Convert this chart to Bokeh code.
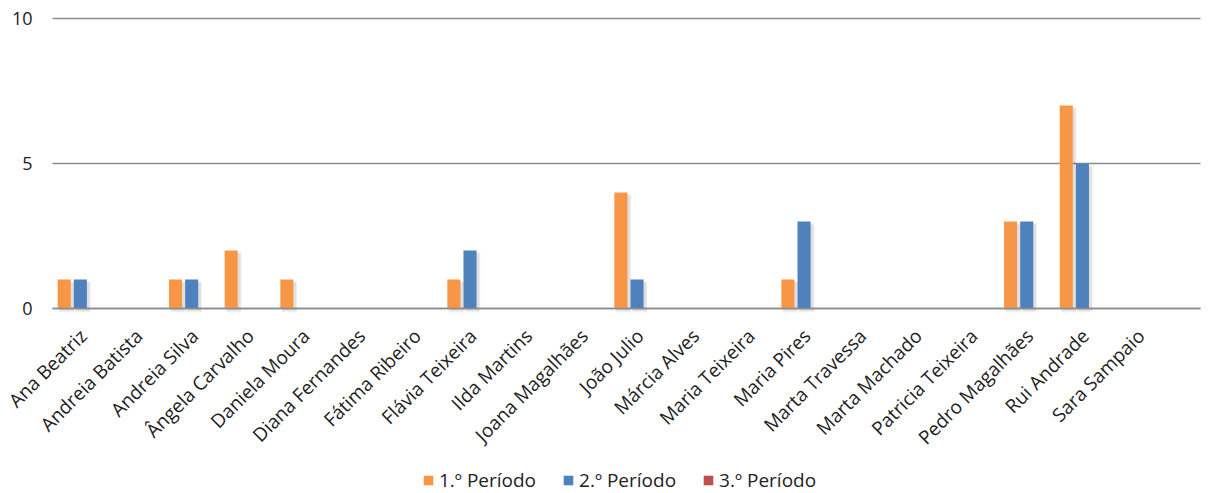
from bokeh.plotting import figure
from bokeh.models import Range1d, Legend, LegendItem, ColumnDataSource
from bokeh.core.properties import value
from bokeh.embed import file_html
from bokeh.resources import INLINE
import math

names = ["Ana Beatriz", "Andreia Batista", "Andreia Silva", "Ângela Carvalho", "Daniela Moura",
         "Diana Fernandes", "Fátima Ribeiro", "Flávia Teixeira", "Ilda Martins", "Joana Magalhães",
         "João Julio", "Márcia Alves", "Maria Teixeira", "Maria Pires", "Marta Travessa",
         "Marta Machado", "Patricia Teixeira", "Pedro Magalhães", "Rui Andrade", "Sara Sampaio"]
periodo1 = [1, 0, 1, 2, 1, 0, 0, 1, 0, 0, 4, 0, 0, 1, 0, 0, 0, 3, 7, 0]
periodo2 = [1, 0, 1, 0, 0, 0, 0, 2, 0, 0, 1, 0, 0, 3, 0, 0, 0, 3, 5, 0]
periodo3 = [0] * 20
series_names = ["1.º Período", "2.º Período", "3.º Período"]
colors = ["#F79646", "#4F81BD", "#C0504D"]
y_ticks = [0, 5, 10]
y_tick_labels = ["0", "5", "10"]

FONT = "Open Sans"
GRID = "#8c8c8c"
PX_X = 55.67   # pixels per category
PX_Y = 29.0    # pixels per unit
LEFT = 52      # pixel where the plot area begins
ZERO_Y = 308   # pixel row of the value 0
PLOT_W = 1148  # plot area width in pixels
FRAME_W = 1214
FRAME_H = 493

x0 = -0.5 - LEFT / PX_X
y_top = ZERO_Y / PX_Y
p = figure(frame_width=FRAME_W, frame_height=FRAME_H, output_backend="svg", toolbar_location=None,
           x_range=Range1d(x0, x0 + FRAME_W / PX_X),
           y_range=Range1d(y_top - FRAME_H / PX_Y, y_top),
           min_border_left=0, min_border_right=0, min_border_top=0, min_border_bottom=0)
p.outline_line_color = None
p.background_fill_color = "white"
p.border_fill_color = "white"
p.xaxis.visible = False
p.yaxis.visible = False
p.xgrid.visible = False
p.ygrid.visible = False

x_end = -0.5 + PLOT_W / PX_X
# horizontal grid lines (value axis)
p.segment(x0=[-0.5] * len(y_ticks), x1=[x_end] * len(y_ticks), y0=y_ticks, y1=y_ticks,
          line_color=GRID, line_width=1.5)
# value axis labels
p.text(x=[-0.5 - 20 / PX_X] * len(y_ticks), y=y_ticks, text=y_tick_labels,
       text_align="right", text_baseline="middle", text_font=value(FONT),
       text_font_size="18px", text_color="#222222")

offsets = [-0.29, 0.0, 0.29]
bw = 0.235
data = [periodo1, periodo2, periodo3]
renderers = []
for vals, off, col in zip(data, offsets, colors):
    xs = [i + off for i in range(len(names))]
    sx = [x + 0.045 for x, v in zip(xs, vals) if v > 0]
    st = [v - 0.06 for v in vals if v > 0]
    if sx:
        for k, a in enumerate([0.03, 0.04, 0.05]):
            grow = 0.05 - k * 0.02
            p.vbar(x=sx, top=[t - 0.02 * k for t in st], bottom=-0.14 + 0.03 * k,
                   width=bw + grow, fill_color="black", fill_alpha=a, line_color=None)
    src = ColumnDataSource(dict(x=xs, top=vals))
    r = p.vbar(x="x", top="top", bottom=0, width=bw, source=src, fill_color=col, line_color=None)
    renderers.append(r)

# category axis line drawn over the bars
p.segment(x0=[-0.5], x1=[x_end], y0=[0], y1=[0], line_color=GRID, line_width=1.5)

# category labels, rotated 45 degrees, ending under each category
lab_src = ColumnDataSource(dict(x=[i + 3 / PX_X for i in range(len(names))],
                                y=[-24 / PX_Y] * len(names), text=names))
p.text(x="x", y="y", text="text", source=lab_src, angle=math.pi / 4,
       text_align="right", text_baseline="middle", text_font=value(FONT),
       text_font_size="19px", text_color="#222222")

items = [LegendItem(label=n, renderers=[r]) for n, r in zip(series_names, renderers)]
legend = Legend(items=items, orientation="horizontal", location=(422, 0),
                padding=0, margin=0, spacing=26, glyph_width=12, glyph_height=12,
                label_standoff=5, label_height=18, border_line_color=None,
                background_fill_alpha=0, label_text_font=FONT, label_text_font_size="19px",
                label_text_color="#222222")
p.add_layout(legend, "center")

open("out.html", "w").write(file_html(p, INLINE))
